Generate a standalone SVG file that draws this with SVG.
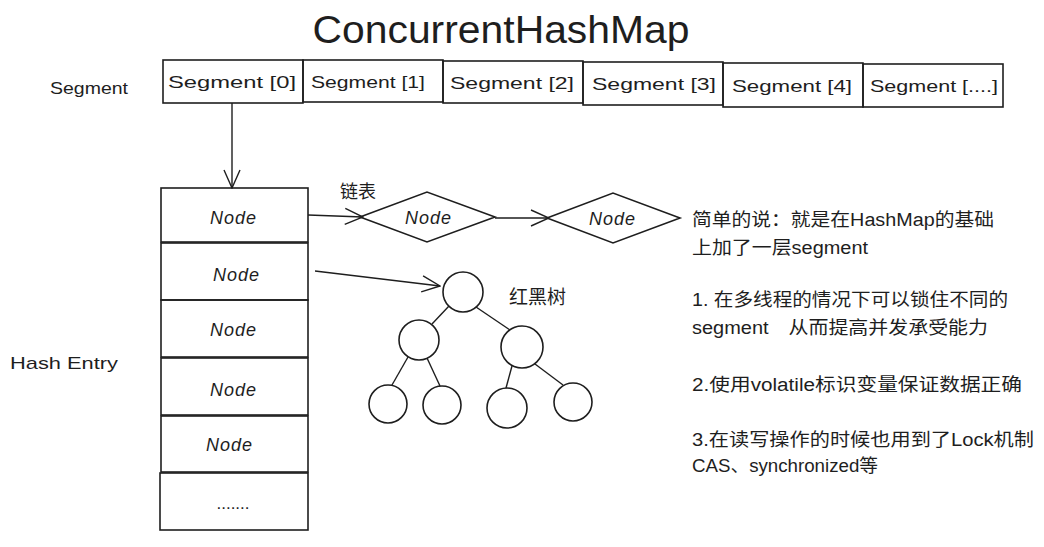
<svg xmlns="http://www.w3.org/2000/svg" width="1044" height="547" viewBox="0 0 1044 547">
<defs>
<style>
.box{fill:none;stroke:#1e1e1e;stroke-width:1.6;}
.ln{fill:none;stroke:#1e1e1e;stroke-width:1.4;}
.t{font-family:"Liberation Sans","Noto Sans CJK SC",sans-serif;fill:#1e1e1e;}
.seg{font-size:17px;text-anchor:middle;}
.node{font-size:18px;font-style:italic;text-anchor:middle;}
.note{font-size:18px;}
</style>
<marker id="arr" viewBox="0 0 20 20" refX="19" refY="10" markerWidth="20" markerHeight="20" markerUnits="userSpaceOnUse" orient="auto">
<path d="M1,2 L19,10 L1,18" fill="none" stroke="#1e1e1e" stroke-width="1.4"/>
</marker>
</defs>
<rect width="1044" height="547" fill="#ffffff"/>
<text class="t" x="501" y="43" font-size="38" text-anchor="middle" textLength="377" lengthAdjust="spacingAndGlyphs">ConcurrentHashMap</text>
<text class="t" x="50" y="94" font-size="17" textLength="78" lengthAdjust="spacingAndGlyphs">Segment</text>
<text class="t" x="10" y="369" font-size="17" textLength="108" lengthAdjust="spacingAndGlyphs">Hash Entry</text>

<g id="segment0"><rect class="box" x="163" y="60" width="140" height="43"/><text class="t seg" x="232" y="88" textLength="128" lengthAdjust="spacingAndGlyphs">Segment [0]</text></g>
<g id="segment1"><rect class="box" x="303" y="60" width="140" height="42"/><text class="t seg" x="368" y="88" textLength="114" lengthAdjust="spacingAndGlyphs">Segment [1]</text></g>
<g id="segment2"><rect class="box" x="443" y="61" width="140" height="42"/><text class="t seg" x="512" y="89" textLength="124" lengthAdjust="spacingAndGlyphs">Segment [2]</text></g>
<g id="segment3"><rect class="box" x="583" y="62" width="140" height="43"/><text class="t seg" x="654" y="90" textLength="124" lengthAdjust="spacingAndGlyphs">Segment [3]</text></g>
<g id="segment4"><rect class="box" x="723" y="63" width="140" height="44"/><text class="t seg" x="792" y="92" textLength="120" lengthAdjust="spacingAndGlyphs">Segment [4]</text></g>
<g id="segment5"><rect class="box" x="863" y="64" width="140" height="43"/><text class="t seg" x="934" y="92" textLength="128" lengthAdjust="spacingAndGlyphs">Segment [....]</text></g>

<g id="entry1"><rect class="box" x="161" y="188" width="147" height="54"/><text class="t node" x="233" y="224" textLength="46">Node</text></g>
<g id="entry2"><rect class="box" x="161" y="243" width="147" height="57"/><text class="t node" x="236" y="281" textLength="46">Node</text></g>
<g id="entry3"><rect class="box" x="161" y="300" width="147" height="57"/><text class="t node" x="233" y="336" textLength="46">Node</text></g>
<g id="entry4"><rect class="box" x="161" y="358" width="147" height="57"/><text class="t node" x="233" y="396" textLength="46">Node</text></g>
<g id="entry5"><rect class="box" x="161" y="416" width="147" height="56"/><text class="t node" x="229" y="451" textLength="46">Node</text></g>
<g id="entry6"><rect class="box" x="160" y="473" width="148" height="57"/><text class="t" x="233" y="509" font-size="17" text-anchor="middle">.......</text></g>

<g id="list1"><path class="box" d="M360,217 L427,192 L495,217 L427,242 Z"/><text class="t node" x="428" y="224" textLength="46">Node</text></g>
<g id="list2"><path class="box" d="M547,218 L613,193 L680,218 L613,243 Z"/><text class="t node" x="612" y="225" textLength="46">Node</text></g>
<text class="t" x="340" y="198" font-size="18">链表</text>

<g id="tree-root"><circle class="box" cx="463" cy="292" r="20"/></g>
<g id="tree-l"><circle class="box" cx="419" cy="340" r="20"/></g>
<g id="tree-r"><circle class="box" cx="522" cy="347" r="21"/></g>
<g id="tree-ll"><circle class="box" cx="388" cy="404" r="19"/></g>
<g id="tree-lr"><circle class="box" cx="442" cy="405" r="19"/></g>
<g id="tree-rl"><circle class="box" cx="507" cy="408" r="20"/></g>
<g id="tree-rr"><circle class="box" cx="573" cy="402" r="19"/></g>
<text class="t" x="509" y="304" font-size="19">红黑树</text>

<g id="connectors">
<line class="ln" x1="232" y1="103" x2="232" y2="188" marker-end="url(#arr)"/>
<line class="ln" x1="308" y1="215" x2="363" y2="217" marker-end="url(#arr)"/>
<line class="ln" x1="495" y1="218" x2="549" y2="218" marker-end="url(#arr)"/>
<line class="ln" x1="315" y1="271" x2="440" y2="286" marker-end="url(#arr)"/>
<line class="ln" x1="449" y1="306" x2="432" y2="324"/>
<line class="ln" x1="476" y1="307" x2="510" y2="330"/>
<line class="ln" x1="408" y1="357" x2="392" y2="385"/>
<line class="ln" x1="427" y1="358" x2="440" y2="386"/>
<line class="ln" x1="512" y1="366" x2="506" y2="388"/>
<line class="ln" x1="535" y1="364" x2="563" y2="385"/>
</g>

<g id="notes">
<text class="t note" x="692" y="226" textLength="302" lengthAdjust="spacingAndGlyphs">简单的说：就是在HashMap的基础</text>
<text class="t note" x="692" y="254" textLength="176" lengthAdjust="spacingAndGlyphs">上加了一层segment</text>
<text class="t note" x="692" y="306" textLength="316" lengthAdjust="spacingAndGlyphs">1. 在多线程的情况下可以锁住不同的</text>
<text class="t note" x="692" y="334" textLength="296" lengthAdjust="spacingAndGlyphs">segment　从而提高并发承受能力</text>
<text class="t note" x="692" y="391" textLength="330" lengthAdjust="spacingAndGlyphs">2.使用volatile标识变量保证数据正确</text>
<text class="t note" x="692" y="446" textLength="342" lengthAdjust="spacingAndGlyphs">3.在读写操作的时候也用到了Lock机制</text>
<text class="t note" x="692" y="472" textLength="186" lengthAdjust="spacingAndGlyphs">CAS、synchronized等</text>
</g>
</svg>
